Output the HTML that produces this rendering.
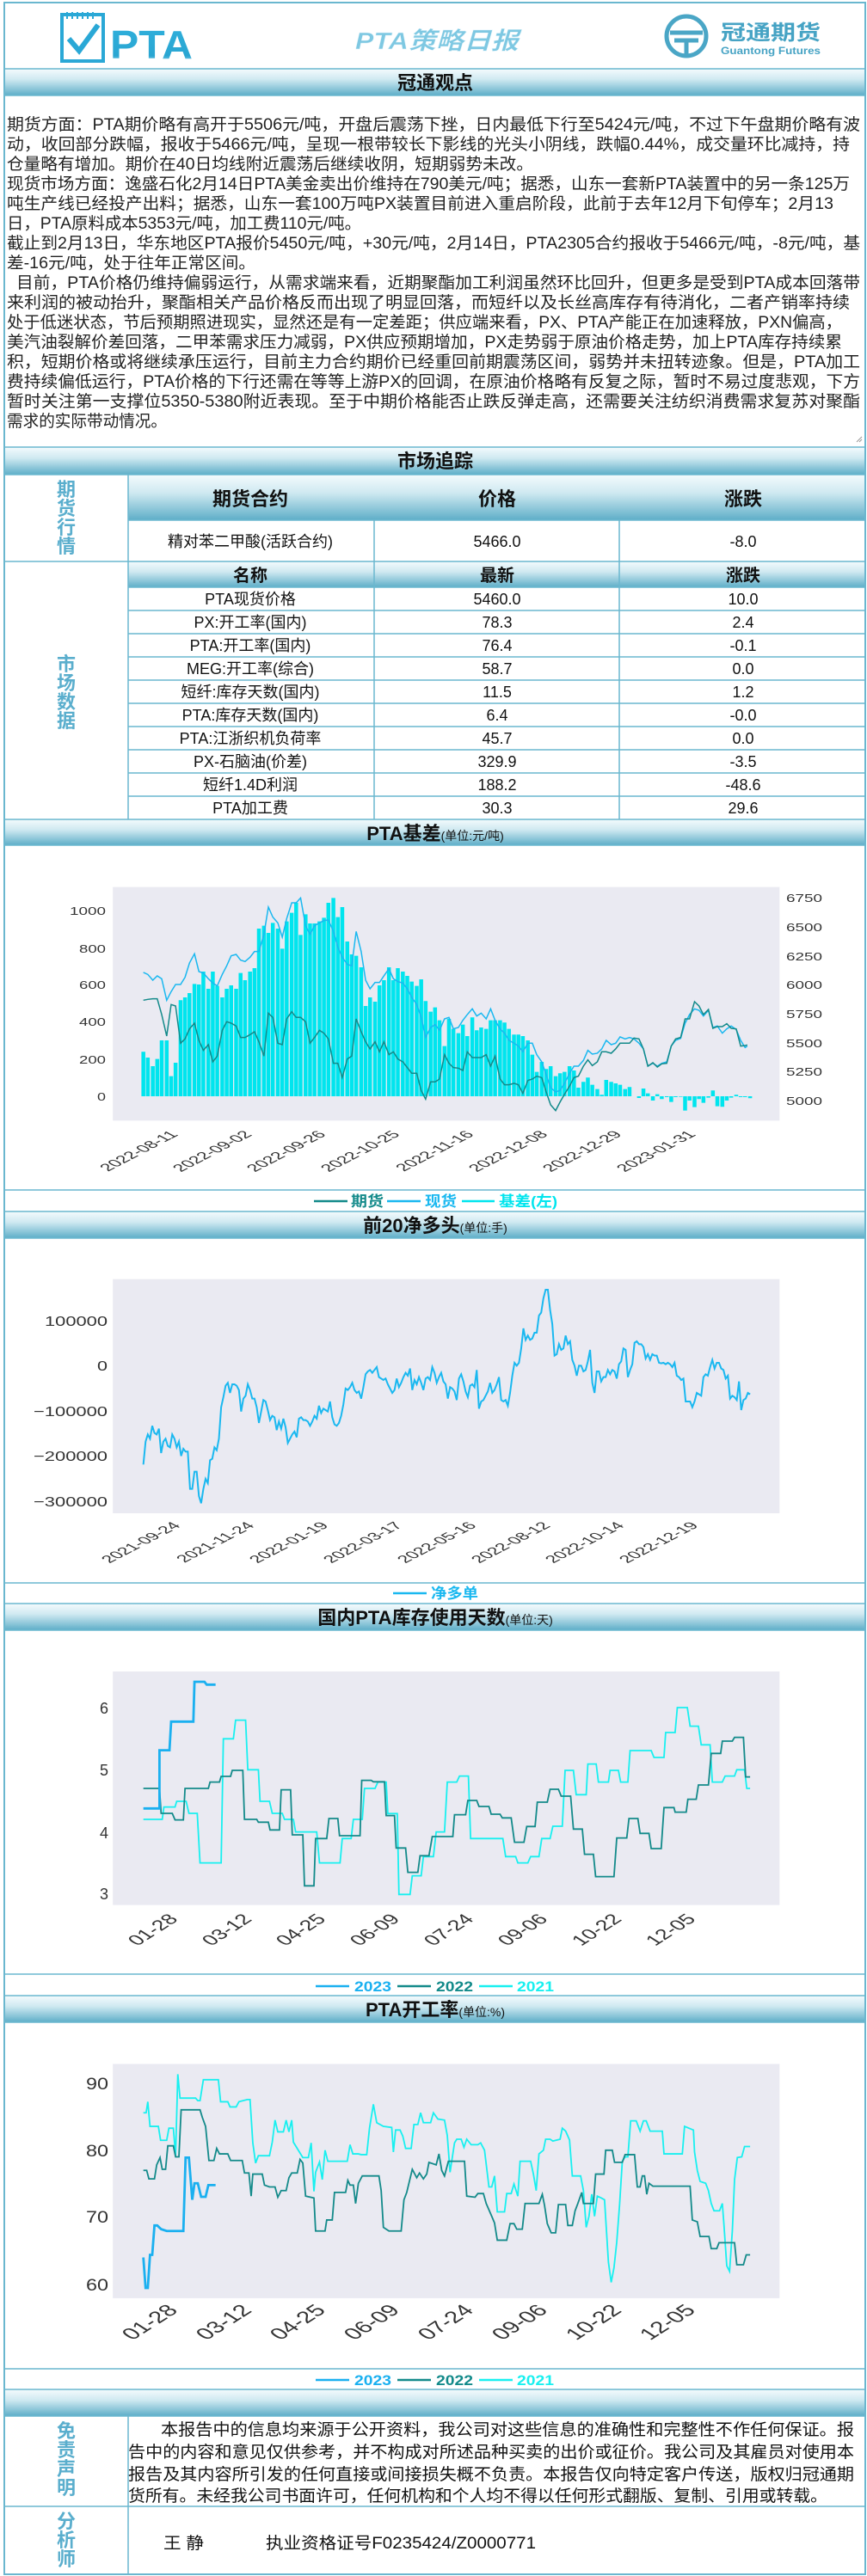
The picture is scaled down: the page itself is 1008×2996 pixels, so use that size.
<!DOCTYPE html>
<html><head><meta charset="utf-8">
<style>
html,body{margin:0;padding:0;background:#fff;}
svg{display:block;}
text{font-family:"Liberation Sans","Noto Sans CJK SC",sans-serif;}
.t{font-family:"Liberation Serif","Noto Serif CJK SC",serif;font-size:19px;fill:#222;}
.bt{font-weight:bold;font-size:22px;fill:#111;}
.cell{font-size:18px;fill:#111;}
.lab{font-weight:bold;font-size:22px;fill:#5aaecd;}
.tk{font-size:14px;fill:#333;}
</style></head>
<body>
<svg width="1008" height="2996" viewBox="0 0 1008 2996" xmlns="http://www.w3.org/2000/svg">
<defs>
<linearGradient id="g" x1="0" y1="0" x2="0" y2="1">
<stop offset="0" stop-color="#f4fbfd"/><stop offset="0.4" stop-color="#cfe9f1"/><stop offset="1" stop-color="#5eaec8"/>
</linearGradient>
<linearGradient id="lg" x1="0" y1="0" x2="0" y2="1">
<stop offset="0" stop-color="#2fb0dc"/><stop offset="0.75" stop-color="#2aa6d2"/><stop offset="1" stop-color="#dff3fa"/>
</linearGradient>
</defs>
<rect width="1008" height="2996" fill="#fff"/>

<!-- HEADER -->
<g>
<rect x="72" y="17" width="48" height="54" fill="none" stroke="#2aa8d6" stroke-width="4"/>
<path d="M78 14v8M84 14v8M90 14v8M96 14v8M102 14v8M108 14v8" stroke="#2aa8d6" stroke-width="2"/>
<path d="M80 45l12 14 22-30" fill="none" stroke="#2aa8d6" stroke-width="6"/>
<text x="128" y="68" font-size="46" font-weight="bold" fill="url(#lg)" textLength="96" lengthAdjust="spacingAndGlyphs">PTA</text>
<text x="508" y="57" text-anchor="middle" font-size="28" font-weight="bold" font-style="italic" fill="#7ec8e2" stroke="#e8f6fb" stroke-width="0.5" textLength="190" lengthAdjust="spacingAndGlyphs">PTA策略日报</text>
<circle cx="798" cy="42" r="23" fill="none" stroke="#4aa6c6" stroke-width="5"/>
<path d="M779 38h38M784 47h28M798 47v18" stroke="#4aa6c6" stroke-width="5" fill="none"/>
<text x="838" y="46" font-size="24" font-weight="bold" fill="#46a3c4" textLength="116" lengthAdjust="spacingAndGlyphs">冠通期货</text>
<text x="838" y="63" font-size="12" font-weight="bold" fill="#46a3c4" textLength="116" lengthAdjust="spacingAndGlyphs">Guantong Futures</text>
</g>

<!-- bars -->
<g fill="url(#g)">
<rect x="5" y="80" width="1001" height="31"/>
<rect x="5" y="520" width="1001" height="32"/>
<rect x="149" y="552" width="857" height="53"/>
<rect x="149" y="653" width="857" height="30"/>
<rect x="5" y="953" width="1001" height="30"/>
<rect x="5" y="1409" width="1001" height="31"/>
<rect x="5" y="1865" width="1001" height="31"/>
<rect x="5" y="2321" width="1001" height="31"/>
<rect x="5" y="2779" width="1001" height="31"/>
</g>

<text x="506" y="104" text-anchor="middle" class="bt">冠通观点</text>
<text x="506" y="544" text-anchor="middle" class="bt">市场追踪</text>

<!-- Text block -->
<g class="t">
<text x="8" y="151" textLength="992" lengthAdjust="spacingAndGlyphs">期货方面：PTA期价略有高开于5506元/吨，开盘后震荡下挫，日内最低下行至5424元/吨，不过下午盘期价略有波</text>
<text x="8" y="174" textLength="980" lengthAdjust="spacingAndGlyphs">动，收回部分跌幅，报收于5466元/吨，呈现一根带较长下影线的光头小阴线，跌幅0.44%，成交量环比减持，持</text>
<text x="8" y="197" textLength="612" lengthAdjust="spacingAndGlyphs">仓量略有增加。期价在40日均线附近震荡后继续收阴，短期弱势未改。</text>
<text x="8" y="220" textLength="980" lengthAdjust="spacingAndGlyphs">现货市场方面：逸盛石化2月14日PTA美金卖出价维持在790美元/吨；据悉，山东一套新PTA装置中的另一条125万</text>
<text x="8" y="243" textLength="961" lengthAdjust="spacingAndGlyphs">吨生产线已经投产出料；据悉，山东一套100万吨PX装置目前进入重启阶段，此前于去年12月下旬停车；2月13</text>
<text x="8" y="266" textLength="412" lengthAdjust="spacingAndGlyphs">日，PTA原料成本5353元/吨，加工费110元/吨。</text>
<text x="8" y="289" textLength="992" lengthAdjust="spacingAndGlyphs">截止到2月13日，华东地区PTA报价5450元/吨，+30元/吨，2月14日，PTA2305合约报收于5466元/吨，-8元/吨，基</text>
<text x="8" y="312" textLength="289" lengthAdjust="spacingAndGlyphs">差-16元/吨，处于往年正常区间。</text>
<text x="19" y="335" textLength="981" lengthAdjust="spacingAndGlyphs">目前，PTA价格仍维持偏弱运行，从需求端来看，近期聚酯加工利润虽然环比回升，但更多是受到PTA成本回落带</text>
<text x="8" y="358" textLength="980" lengthAdjust="spacingAndGlyphs">来利润的被动抬升，聚酯相关产品价格反而出现了明显回落，而短纤以及长丝高库存有待消化，二者产销率持续</text>
<text x="8" y="381" textLength="971" lengthAdjust="spacingAndGlyphs">处于低迷状态，节后预期照进现实，显然还是有一定差距；供应端来看，PX、PTA产能正在加速释放，PXN偏高，</text>
<text x="8" y="404" textLength="971" lengthAdjust="spacingAndGlyphs">美汽油裂解价差回落，二甲苯需求压力减弱，PX供应预期增加，PX走势弱于原油价格走势，加上PTA库存持续累</text>
<text x="8" y="427" textLength="992" lengthAdjust="spacingAndGlyphs">积，短期价格或将继续承压运行，目前主力合约期价已经重回前期震荡区间，弱势并未扭转迹象。但是，PTA加工</text>
<text x="8" y="450" textLength="992" lengthAdjust="spacingAndGlyphs">费持续偏低运行，PTA价格的下行还需在等等上游PX的回调，在原油价格略有反复之际，暂时不易过度悲观，下方</text>
<text x="8" y="473" textLength="992" lengthAdjust="spacingAndGlyphs">暂时关注第一支撑位5350-5380附近表现。至于中期价格能否止跌反弹走高，还需要关注纺织消费需求复苏对聚酯</text>
<text x="8" y="496" textLength="186" lengthAdjust="spacingAndGlyphs">需求的实际带动情况。</text>
</g>
<path d="M996 514l6-6M999 514l3-3" stroke="#999" stroke-width="1"/>

<!-- Tables -->
<g font-size="22" font-weight="bold" fill="#5aaecd" text-anchor="middle">
<text x="77" y="577">期</text><text x="77" y="599">货</text><text x="77" y="621">行</text><text x="77" y="643">情</text>
<text x="77" y="780">市</text><text x="77" y="802">场</text><text x="77" y="824">数</text><text x="77" y="846">据</text>
</g>
<g class="bt" text-anchor="middle">
<text x="291" y="588">期货合约</text><text x="578" y="588">价格</text><text x="864" y="588">涨跌</text>
<text x="291" y="676" font-size="20">名称</text><text x="578" y="676" font-size="20">最新</text><text x="864" y="676" font-size="20">涨跌</text>
</g>
<g class="cell" text-anchor="middle">
<text x="291" y="636">精对苯二甲酸(活跃合约)</text><text x="578" y="636">5466.0</text><text x="864" y="636">-8.0</text>
<text x="291" y="703">PTA现货价格</text><text x="578" y="703">5460.0</text><text x="864" y="703">10.0</text>
<text x="291" y="730">PX:开工率(国内)</text><text x="578" y="730">78.3</text><text x="864" y="730">2.4</text>
<text x="291" y="757">PTA:开工率(国内)</text><text x="578" y="757">76.4</text><text x="864" y="757">-0.1</text>
<text x="291" y="784">MEG:开工率(综合)</text><text x="578" y="784">58.7</text><text x="864" y="784">0.0</text>
<text x="291" y="811">短纤:库存天数(国内)</text><text x="578" y="811">11.5</text><text x="864" y="811">1.2</text>
<text x="291" y="838">PTA:库存天数(国内)</text><text x="578" y="838">6.4</text><text x="864" y="838">-0.0</text>
<text x="291" y="865">PTA:江浙织机负荷率</text><text x="578" y="865">45.7</text><text x="864" y="865">0.0</text>
<text x="291" y="892">PX-石脑油(价差)</text><text x="578" y="892">329.9</text><text x="864" y="892">-3.5</text>
<text x="291" y="919">短纤1.4D利润</text><text x="578" y="919">188.2</text><text x="864" y="919">-48.6</text>
<text x="291" y="946">PTA加工费</text><text x="578" y="946">30.3</text><text x="864" y="946">29.6</text>
</g>
<g stroke="#6ab7cf" stroke-width="1.5" fill="none">
<path d="M149 552V953M435 605V653M720 605V653M435 653V953M720 653V953"/>
<path d="M149 605H1006M5 653H1006M149 683H1006M149 710H1006M149 737H1006M149 764H1006M149 791H1006M149 818H1006M149 845H1006M149 872H1006M149 899H1006M149 926H1006"/>
<path d="M5 552H1006M5 953H1006M5 983H1006M5 1384H1006M5 1409H1006M5 1440H1006M5 1841H1006M5 1865H1006M5 1896H1006M5 2296H1006M5 2321H1006M5 2352H1006M5 2755H1006M5 2779H1006M5 2810H1006M5 2915H1006M149 2810V2994"/>
<path d="M5 80H1006M5 111H1006M5 520H1006" />
</g>
<rect x="5" y="3" width="1001" height="2991" fill="none" stroke="#6ab7cf" stroke-width="2"/>

<!-- Section titles -->
<text x="506" y="977" text-anchor="middle"><tspan class="bt">PTA基差</tspan><tspan font-size="14" fill="#111">(单位:元/吨)</tspan></text>
<text x="506" y="1433" text-anchor="middle"><tspan class="bt">前20净多头</tspan><tspan font-size="14" fill="#111">(单位:手)</tspan></text>
<text x="506" y="1889" text-anchor="middle"><tspan class="bt">国内PTA库存使用天数</tspan><tspan font-size="14" fill="#111">(单位:天)</tspan></text>
<text x="506" y="2345" text-anchor="middle"><tspan class="bt">PTA开工率</tspan><tspan font-size="14" fill="#111">(单位:%)</tspan></text>

<!-- CHART 1 -->
<g transform="translate(0,950) scale(0.646,0.3333)">
<rect x="203" y="245" width="1200" height="815" fill="#eaeaf2"/>
<path transform="translate(-3.5,0)" fill="#00e5ee" d="M258 975V820h7V975zM266 975V840h7V975zM275 975V870h7V975zM283 975V845h7V975zM291 975V780h7V975zM300 975V780h7V975zM308 975V905h7V975zM316 975V858h7V975zM325 975V640h7V975zM333 975V630h7V975zM341 975V615h7V975zM350 975V583h7V975zM358 975V585h7V975zM366 975V540h7V975zM375 975V600h7V975zM383 975V540h7V975zM391 975V590h7V975zM400 975V630h7V975zM408 975V600h7V975zM416 975V588h7V975zM425 975V600h7V975zM433 975V545h7V975zM441 975V570h7V975zM450 975V540h7V975zM458 975V528h7V975zM466 975V390h7V975zM475 975V380h7V975zM483 975V405h7V975zM491 975V370h7V975zM500 975V390h7V975zM508 975V460h7V975zM516 975V365h7V975zM525 975V335h7V975zM533 975V300h7V975zM541 975V412h7V975zM550 975V340h7V975zM558 975V372h7V975zM566 975V372h7V975zM575 975V365h7V975zM583 975V352h7V975zM591 975V300h7V975zM600 975V283h7V975zM608 975V350h7V975zM616 975V315h7V975zM625 975V435h7V975zM633 975V480h7V975zM641 975V485h7V975zM650 975V525h7V975zM658 975V660h7V975zM666 975V630h7V975zM675 975V645h7V975zM683 975V588h7V975zM691 975V570h7V975zM700 975V525h7V975zM708 975V570h7V975zM716 975V528h7V975zM725 975V540h7V975zM733 975V555h7V975zM741 975V575h7V975zM750 975V590h7V975zM758 975V567h7V975zM766 975V643h7V975zM775 975V680h7V975zM783 975V665h7V975zM791 975V710h7V975zM800 975V800h7V975zM808 975V705h7V975zM816 975V740h7V975zM825 975V755h7V975zM833 975V725h7V975zM841 975V765h7V975zM850 975V700h7V975zM858 975V745h7V975zM866 975V735h7V975zM875 975V740h7V975zM883 975V710h7V975zM891 975V710h7V975zM900 975V710h7V975zM908 975V718h7V975zM916 975V740h7V975zM925 975V760h7V975zM933 975V760h7V975zM941 975V765h7V975zM950 975V780h7V975zM958 975V830h7V975zM966 975V890h7V975zM975 975V855h7V975zM983 975V880h7V975zM991 975V870h7V975zM1000 975V905h7V975zM1008 975V895h7V975zM1016 975V890h7V975zM1025 975V870h7V975zM1033 975V885h7V975zM1041 975V945h7V975zM1050 975V925h7V975zM1058 975V910h7V975zM1066 975V935h7V975zM1075 975V950h7V975zM1083 975V970h7V975zM1091 975V918h7V975zM1100 975V925h7V975zM1108 975V930h7V975zM1116 975V935h7V975zM1125 975V950h7V975zM1133 975V943h7V975zM1150 975V981h7V975zM1158 975V948h7V975zM1166 975V965h7V975zM1175 975V990h7V975zM1183 975V968h7V975zM1191 975V985h7V975zM1200 975V978h7V975zM1208 975V995h7V975zM1216 975V978h7V975zM1225 975V977h7V975zM1233 975V1025h7V975zM1241 975V990h7V975zM1250 975V1013h7V975zM1258 975V985h7V975zM1266 975V998h7V975zM1275 975V980h7V975zM1283 975V955h7V975zM1291 975V1010h7V975zM1300 975V1012h7V975zM1308 975V990h7V975zM1316 975V980h7V975zM1325 975V970h7V975zM1333 975V978h7V975zM1341 975V978h7V975zM1350 975V982h7V975z"/>
<polyline fill="none" stroke="#1ab8f0" stroke-width="1.5" vector-effect="non-scaling-stroke" points="258,543 266,550 275,570 283,555 291,565 300,640 308,610 316,585 325,585 333,560 341,510 350,478 358,540 366,545 375,565 383,580 391,590 400,550 408,520 416,485 425,480 433,500 441,505 450,490 458,470 466,470 475,410 483,315 491,350 500,370 508,420 516,355 525,300 533,300 541,283 550,380 558,410 566,380 575,370 583,362 591,360 600,400 608,455 616,490 625,515 633,520 641,400 650,470 658,570 666,600 675,578 683,578 691,555 700,530 708,565 716,575 725,580 733,600 741,630 750,655 758,700 766,770 775,735 783,725 791,745 800,705 808,700 816,740 825,735 833,710 841,690 850,670 858,695 866,685 875,705 883,670 891,710 900,740 908,755 916,780 925,790 933,800 941,820 950,790 958,790 966,830 975,855 983,900 991,945 1000,960 1008,955 1016,930 1025,895 1033,870 1041,870 1050,850 1058,815 1066,828 1075,825 1083,810 1091,780 1100,795 1108,790 1116,768 1125,775 1133,770 1141,775 1150,790 1158,810 1166,870 1175,860 1183,870 1191,860 1200,855 1208,800 1216,780 1225,773 1233,720 1241,690 1250,670 1258,675 1266,695 1275,675 1283,735 1291,730 1300,755 1308,740 1316,730 1325,742 1333,780 1341,805 1345,800"/>
<polyline fill="none" stroke="#138a8a" stroke-width="1.5" vector-effect="non-scaling-stroke" points="258,640 266,637 275,635 283,635 291,690 300,765 308,655 316,660 325,790 333,775 341,740 350,720 358,780 366,815 375,795 383,855 391,835 400,745 408,715 416,720 425,730 433,770 441,770 450,760 458,750 466,785 475,835 483,685 491,700 500,790 508,795 516,705 525,680 533,700 541,700 550,715 558,790 566,770 575,745 583,755 591,775 600,860 608,860 616,910 625,845 633,835 641,705 650,750 658,785 666,810 675,785 683,820 691,785 700,830 708,820 716,845 725,855 733,875 741,895 750,895 758,955 766,985 775,925 783,925 791,915 800,830 808,860 816,875 825,877 833,885 841,820 850,840 858,840 866,840 875,830 883,870 891,835 900,915 908,935 916,935 925,930 933,935 941,965 950,920 958,915 966,905 975,910 983,960 991,1005 1000,1025 1008,995 1016,968 1025,940 1033,910 1041,905 1050,870 1058,848 1066,868 1075,855 1083,820 1091,820 1100,825 1108,810 1116,790 1125,790 1133,790 1141,772 1150,775 1158,810 1166,870 1175,858 1183,873 1191,862 1200,860 1208,800 1216,775 1225,770 1233,705 1241,705 1250,645 1258,660 1266,690 1275,672 1283,738 1291,732 1300,732 1308,722 1316,738 1325,740 1333,800 1341,798 1345,796"/>
</g>
<g font-size="13" fill="#333" text-anchor="end">
<text x="123" y="1064" textLength="42" lengthAdjust="spacingAndGlyphs">1000</text>
<text x="123" y="1108" textLength="31" lengthAdjust="spacingAndGlyphs">800</text>
<text x="123" y="1150" textLength="31" lengthAdjust="spacingAndGlyphs">600</text>
<text x="123" y="1193" textLength="31" lengthAdjust="spacingAndGlyphs">400</text>
<text x="123" y="1237" textLength="31" lengthAdjust="spacingAndGlyphs">200</text>
<text x="123" y="1280" textLength="10" lengthAdjust="spacingAndGlyphs">0</text>
</g>
<g font-size="13" fill="#333">
<text x="914" y="1049" textLength="42" lengthAdjust="spacingAndGlyphs">6750</text>
<text x="914" y="1083" textLength="42" lengthAdjust="spacingAndGlyphs">6500</text>
<text x="914" y="1117" textLength="42" lengthAdjust="spacingAndGlyphs">6250</text>
<text x="914" y="1150" textLength="42" lengthAdjust="spacingAndGlyphs">6000</text>
<text x="914" y="1184" textLength="42" lengthAdjust="spacingAndGlyphs">5750</text>
<text x="914" y="1218" textLength="42" lengthAdjust="spacingAndGlyphs">5500</text>
<text x="914" y="1251" textLength="42" lengthAdjust="spacingAndGlyphs">5250</text>
<text x="914" y="1285" textLength="42" lengthAdjust="spacingAndGlyphs">5000</text>
</g>
<g font-size="12" fill="#333" text-anchor="end">
<text transform="translate(208,1320) scale(1.93,1) rotate(-45)">2022-08-11</text>
<text transform="translate(294,1320) scale(1.93,1) rotate(-45)">2022-09-02</text>
<text transform="translate(380,1320) scale(1.93,1) rotate(-45)">2022-09-26</text>
<text transform="translate(466,1320) scale(1.93,1) rotate(-45)">2022-10-25</text>
<text transform="translate(552,1320) scale(1.93,1) rotate(-45)">2022-11-16</text>
<text transform="translate(638,1320) scale(1.93,1) rotate(-45)">2022-12-08</text>
<text transform="translate(724,1320) scale(1.93,1) rotate(-45)">2022-12-29</text>
<text transform="translate(810,1320) scale(1.93,1) rotate(-45)">2023-01-31</text>
</g>
<g stroke-width="2.5">
<line x1="365" y1="1397" x2="404" y2="1397" stroke="#138a8a"/>
<line x1="450" y1="1397" x2="489" y2="1397" stroke="#1ab8f0"/>
<line x1="537" y1="1397" x2="575" y2="1397" stroke="#00e5ee"/>
</g>
<g font-size="17" font-weight="bold">
<text x="408" y="1403" fill="#138a8a" textLength="38" lengthAdjust="spacingAndGlyphs">期货</text>
<text x="494" y="1403" fill="#1ab8f0" textLength="37" lengthAdjust="spacingAndGlyphs">现货</text>
<text x="580" y="1403" fill="#00e5ee" textLength="68" lengthAdjust="spacingAndGlyphs">基差(左)</text>
</g>

<!-- CHART 2 -->
<g transform="translate(0,1420) scale(0.646,0.3333)">
<rect x="203" y="203" width="1200" height="817" fill="#eaeaf2"/>
<polyline fill="none" stroke="#1ab8f0" stroke-width="2" vector-effect="non-scaling-stroke" points="258,850 262,770 266,745 270,760 274,715 278,740 282,745 286,725 290,810 294,770 298,760 302,785 306,790 310,745 314,760 318,790 322,770 326,820 330,795 334,805 338,805 342,935 346,935 350,875 354,875 358,960 362,985 366,935 370,900 374,915 378,835 382,830 386,790 390,800 394,760 398,650 402,615 406,575 410,565 414,600 418,570 422,570 426,575 430,590 434,665 438,620 442,610 446,570 450,590 454,620 458,620 462,650 466,705 470,665 474,625 478,630 482,660 486,695 490,680 494,685 498,730 502,700 506,725 510,690 514,720 518,775 522,760 526,745 530,735 534,755 538,690 542,685 546,695 550,695 554,700 558,715 562,700 566,680 570,690 574,645 578,670 582,655 586,660 590,665 594,630 598,685 602,710 606,715 610,705 614,680 618,640 622,585 626,590 630,580 634,565 638,590 642,600 646,595 650,620 654,580 658,535 662,525 666,520 670,530 674,520 678,510 682,545 686,550 690,555 694,550 698,570 702,585 706,600 710,590 714,550 718,580 722,565 726,545 730,530 734,540 738,515 742,590 746,555 750,570 754,545 758,565 762,590 766,550 770,545 774,555 778,510 782,530 786,565 790,545 794,530 798,560 802,570 806,620 810,580 814,585 818,595 822,625 826,550 830,535 834,560 838,595 842,615 846,575 850,570 854,580 858,520 862,655 866,630 870,625 874,610 878,595 882,565 886,600 890,590 894,570 898,545 902,625 906,630 910,625 914,645 918,600 922,540 926,495 930,505 934,495 938,445 942,375 946,415 950,400 954,415 958,410 962,390 966,390 970,330 974,320 978,270 982,240 986,240 990,310 994,360 998,470 1002,465 1006,430 1010,450 1014,445 1018,400 1022,430 1026,420 1030,485 1034,505 1038,540 1042,505 1046,505 1050,525 1054,520 1058,490 1062,450 1066,565 1070,600 1074,525 1078,525 1082,560 1086,545 1090,545 1094,520 1098,535 1102,520 1106,525 1110,550 1114,500 1118,490 1122,445 1126,450 1130,545 1134,520 1138,500 1142,425 1146,420 1150,430 1154,430 1158,440 1162,480 1166,465 1170,485 1174,465 1178,470 1182,470 1186,495 1190,497 1194,495 1198,500 1202,495 1206,500 1210,510 1214,495 1218,540 1222,545 1226,555 1230,550 1234,630 1238,630 1242,630 1246,650 1250,630 1254,600 1258,605 1262,610 1266,545 1270,535 1274,540 1278,510 1282,485 1286,515 1290,495 1294,495 1298,515 1302,520 1306,550 1310,540 1314,620 1318,610 1322,615 1326,625 1330,560 1334,660 1338,625 1342,620 1346,600 1350,605"/>
</g>
<g font-size="16" fill="#333" text-anchor="end">
<text x="125" y="1542" textLength="73" lengthAdjust="spacingAndGlyphs">100000</text>
<text x="125" y="1594" textLength="12" lengthAdjust="spacingAndGlyphs">0</text>
<text x="125" y="1647" textLength="86" lengthAdjust="spacingAndGlyphs">−100000</text>
<text x="125" y="1699" textLength="86" lengthAdjust="spacingAndGlyphs">−200000</text>
<text x="125" y="1752" textLength="86" lengthAdjust="spacingAndGlyphs">−300000</text>
</g>
<g font-size="12" fill="#333" text-anchor="end">
<text transform="translate(211,1775) scale(1.93,1) rotate(-45)">2021-09-24</text>
<text transform="translate(297,1775) scale(1.93,1) rotate(-45)">2021-11-24</text>
<text transform="translate(383,1775) scale(1.93,1) rotate(-45)">2022-01-19</text>
<text transform="translate(469,1775) scale(1.93,1) rotate(-45)">2022-03-17</text>
<text transform="translate(555,1775) scale(1.93,1) rotate(-45)">2022-05-16</text>
<text transform="translate(641,1775) scale(1.93,1) rotate(-45)">2022-08-12</text>
<text transform="translate(727,1775) scale(1.93,1) rotate(-45)">2022-10-14</text>
<text transform="translate(813,1775) scale(1.93,1) rotate(-45)">2022-12-19</text>
</g>
<line x1="457" y1="1853" x2="496" y2="1853" stroke="#1ab8f0" stroke-width="2.5"/>
<text x="501" y="1859" font-size="17" font-weight="bold" fill="#1ab8f0" textLength="55" lengthAdjust="spacingAndGlyphs">净多单</text>

<!-- CHART 3 -->
<g transform="translate(0,1880) scale(0.646,0.3333)">
<rect x="203" y="192" width="1200" height="815" fill="#eaeaf2"/>
<polyline fill="none" stroke="#18f0f0" stroke-width="1.8" vector-effect="non-scaling-stroke" points="258,708 292,708 295,665 315,665 318,645 335,645 340,687 355,687 360,860 398,860 402,427 420,427 424,362 442,362 446,535 465,535 468,645 485,645 490,687 508,687 512,708 528,708 532,752 570,752 575,860 612,860 616,775 632,775 636,708 652,708 656,600 675,600 680,578 695,578 698,688 715,688 718,970 738,970 742,905 758,905 762,838 780,838 785,752 800,752 805,578 822,578 827,557 843,557 847,775 905,775 910,838 928,838 932,860 950,860 955,838 970,838 975,775 990,775 995,732 1012,732 1017,537 1032,537 1037,622 1055,622 1058,515 1073,515 1077,578 1095,578 1098,537 1113,537 1117,578 1130,578 1134,468 1172,468 1177,492 1195,492 1198,405 1215,405 1219,318 1237,318 1242,383 1257,383 1262,448 1278,448 1282,578 1300,578 1305,557 1322,557 1326,535 1340,535 1344,600 1350,600"/>
<polyline fill="none" stroke="#138a8a" stroke-width="1.8" vector-effect="non-scaling-stroke" points="258,600 287,600 290,687 310,687 315,710 330,710 333,600 375,600 378,578 395,578 398,558 415,558 418,537 437,537 440,708 462,708 465,718 483,718 486,745 503,745 506,605 523,605 526,762 545,762 548,940 565,940 568,775 588,775 592,705 608,705 611,765 648,765 651,572 668,572 672,577 692,577 695,695 710,695 713,808 730,808 734,893 752,893 756,835 772,835 778,768 815,768 818,692 838,692 842,642 858,642 862,663 880,663 884,690 900,690 904,703 920,703 926,788 943,788 948,733 963,733 967,648 985,648 990,603 1005,603 1010,627 1027,627 1032,742 1048,742 1052,830 1068,830 1072,908 1105,908 1110,773 1128,773 1132,705 1148,705 1152,757 1168,757 1172,810 1190,810 1195,667 1213,667 1215,683 1235,683 1238,638 1253,638 1257,588 1275,588 1280,478 1297,478 1300,435 1318,435 1322,422 1338,422 1342,560 1350,560"/>
<polyline fill="none" stroke="#1ab0f0" stroke-width="2.8" vector-effect="non-scaling-stroke" points="258,670 287,670 287,467 305,467 308,367 348,367 350,228 368,228 372,238 388,238"/>
</g>
<g font-size="18" fill="#333" text-anchor="end">
<text x="126" y="1993">6</text><text x="126" y="2065">5</text><text x="126" y="2138">4</text><text x="126" y="2209">3</text>
</g>
<g font-size="17" fill="#333" text-anchor="end">
<text transform="translate(208,2233) scale(1.57,1) rotate(-45)">01-28</text>
<text transform="translate(294,2233) scale(1.57,1) rotate(-45)">03-12</text>
<text transform="translate(380,2233) scale(1.57,1) rotate(-45)">04-25</text>
<text transform="translate(466,2233) scale(1.57,1) rotate(-45)">06-09</text>
<text transform="translate(552,2233) scale(1.57,1) rotate(-45)">07-24</text>
<text transform="translate(638,2233) scale(1.57,1) rotate(-45)">09-06</text>
<text transform="translate(724,2233) scale(1.57,1) rotate(-45)">10-22</text>
<text transform="translate(810,2233) scale(1.57,1) rotate(-45)">12-05</text>
</g>
<g stroke-width="2.5">
<line x1="367" y1="2310" x2="406" y2="2310" stroke="#1ab0f0"/>
<line x1="462" y1="2310" x2="501" y2="2310" stroke="#138a8a"/>
<line x1="557" y1="2310" x2="596" y2="2310" stroke="#18f0f0"/>
</g>
<g font-size="17" font-weight="bold">
<text x="412" y="2316" fill="#1ab0f0" textLength="43" lengthAdjust="spacingAndGlyphs">2023</text>
<text x="507" y="2316" fill="#138a8a" textLength="43" lengthAdjust="spacingAndGlyphs">2022</text>
<text x="601" y="2316" fill="#18f0f0" textLength="43" lengthAdjust="spacingAndGlyphs">2021</text>
</g>

<!-- CHART 4 -->
<g transform="translate(0,2330) scale(0.646,0.427)">
<rect x="203" y="165" width="1200" height="638" fill="#eaeaf2"/>
<polyline fill="none" stroke="#18f0f0" stroke-width="1.8" vector-effect="non-scaling-stroke" points="258,298 263,298 266,268 270,335 285,335 289,373 300,373 304,340 312,340 316,415 320,193 324,258 352,258 356,265 360,265 366,208 393,208 397,268 410,268 414,282 425,282 430,268 445,262 450,262 455,380 460,435 465,415 485,415 490,378 495,318 500,350 510,350 515,318 520,350 525,318 528,378 545,420 555,420 560,380 565,512 568,460 575,432 580,480 585,400 590,430 625,430 630,385 635,410 645,410 650,412 660,412 665,340 672,275 678,325 690,335 705,338 708,405 712,345 720,345 725,362 730,395 740,395 745,330 752,330 757,298 762,325 775,325 780,298 788,315 800,318 805,360 810,460 818,380 822,370 830,370 835,392 840,370 848,385 860,385 865,380 872,400 880,500 885,500 890,470 895,568 908,568 912,518 920,518 925,492 932,525 936,430 955,430 960,465 965,510 970,410 978,400 982,370 990,370 995,375 1008,370 1012,340 1018,348 1025,372 1030,470 1045,470 1050,510 1055,610 1060,580 1065,520 1070,580 1075,525 1082,530 1088,535 1095,705 1100,760 1105,720 1110,650 1115,550 1120,430 1125,418 1130,418 1135,320 1145,320 1152,348 1158,320 1163,320 1170,348 1192,348 1195,410 1228,410 1232,335 1248,345 1250,405 1255,455 1260,485 1270,490 1275,510 1280,545 1285,565 1295,565 1300,545 1303,605 1308,715 1313,730 1318,620 1322,480 1327,420 1335,418 1340,390 1350,390"/>
<polyline fill="none" stroke="#138a8a" stroke-width="1.8" vector-effect="non-scaling-stroke" points="258,455 264,455 268,478 278,478 282,440 288,420 292,452 298,452 302,388 312,388 316,418 322,418 326,290 360,290 364,310 370,335 376,428 385,428 390,395 395,410 410,410 415,428 436,428 440,462 448,462 452,525 455,465 472,465 476,495 485,500 495,500 500,528 506,510 515,510 520,475 525,462 535,462 540,425 545,435 550,525 565,530 568,620 585,620 588,590 598,590 602,515 622,515 626,482 630,495 636,495 640,545 645,490 652,470 682,470 686,510 690,610 700,620 722,620 727,535 732,515 742,452 750,475 755,462 762,478 768,465 772,433 785,440 790,410 795,455 800,470 807,430 836,430 840,525 855,528 860,518 870,518 875,545 885,580 890,598 895,645 912,645 918,600 925,600 930,615 940,615 945,545 970,545 976,520 980,550 985,600 992,625 1000,625 1005,548 1018,548 1022,605 1030,605 1035,565 1040,545 1047,515 1050,545 1068,545 1072,465 1087,465 1090,400 1102,400 1106,433 1120,433 1125,412 1142,412 1147,500 1152,500 1156,470 1160,470 1164,520 1168,490 1175,498 1242,498 1246,590 1255,595 1260,635 1276,635 1280,668 1290,668 1294,652 1322,652 1326,712 1338,712 1343,685 1350,685"/>
<polyline fill="none" stroke="#1ab0f0" stroke-width="2.8" vector-effect="non-scaling-stroke" points="258,692 262,775 266,775 270,685 274,685 278,605 283,605 290,615 300,620 330,620 334,420 340,420 346,535 350,490 356,490 362,527 370,527 375,495 388,495"/>
</g>
<g font-size="19" fill="#333" text-anchor="end">
<text x="126" y="2430" textLength="26" lengthAdjust="spacingAndGlyphs">90</text>
<text x="126" y="2508" textLength="26" lengthAdjust="spacingAndGlyphs">80</text>
<text x="126" y="2585" textLength="26" lengthAdjust="spacingAndGlyphs">70</text>
<text x="126" y="2664" textLength="26" lengthAdjust="spacingAndGlyphs">60</text>
</g>
<g font-size="19" fill="#333" text-anchor="end">
<text transform="translate(208,2688) scale(1.57,1) rotate(-45)">01-28</text>
<text transform="translate(294,2688) scale(1.57,1) rotate(-45)">03-12</text>
<text transform="translate(380,2688) scale(1.57,1) rotate(-45)">04-25</text>
<text transform="translate(466,2688) scale(1.57,1) rotate(-45)">06-09</text>
<text transform="translate(552,2688) scale(1.57,1) rotate(-45)">07-24</text>
<text transform="translate(638,2688) scale(1.57,1) rotate(-45)">09-06</text>
<text transform="translate(724,2688) scale(1.57,1) rotate(-45)">10-22</text>
<text transform="translate(810,2688) scale(1.57,1) rotate(-45)">12-05</text>
</g>
<g stroke-width="2.5">
<line x1="367" y1="2768" x2="406" y2="2768" stroke="#1ab0f0"/>
<line x1="462" y1="2768" x2="501" y2="2768" stroke="#138a8a"/>
<line x1="557" y1="2768" x2="596" y2="2768" stroke="#18f0f0"/>
</g>
<g font-size="17" font-weight="bold">
<text x="412" y="2774" fill="#1ab0f0" textLength="43" lengthAdjust="spacingAndGlyphs">2023</text>
<text x="507" y="2774" fill="#138a8a" textLength="43" lengthAdjust="spacingAndGlyphs">2022</text>
<text x="601" y="2774" fill="#18f0f0" textLength="43" lengthAdjust="spacingAndGlyphs">2021</text>
</g>

<!-- Disclaimer -->
<g font-size="22" font-weight="bold" fill="#5aaecd" text-anchor="middle">
<text x="77" y="2835">免</text><text x="77" y="2857">责</text><text x="77" y="2879">声</text><text x="77" y="2901">明</text>
<text x="77" y="2940">分</text><text x="77" y="2962">析</text><text x="77" y="2984">师</text>
</g>
<g font-size="19" fill="#111">
<text x="187" y="2832" textLength="806" lengthAdjust="spacingAndGlyphs">本报告中的信息均来源于公开资料，我公司对这些信息的准确性和完整性不作任何保证。报</text>
<text x="149" y="2858" textLength="844" lengthAdjust="spacingAndGlyphs">告中的内容和意见仅供参考，并不构成对所述品种买卖的出价或征价。我公司及其雇员对使用本</text>
<text x="149" y="2884" textLength="844" lengthAdjust="spacingAndGlyphs">报告及其内容所引发的任何直接或间接损失概不负责。本报告仅向特定客户传送，版权归冠通期</text>
<text x="149" y="2909" textLength="813" lengthAdjust="spacingAndGlyphs">货所有。未经我公司书面许可，任何机构和个人均不得以任何形式翻版、复制、引用或转载。</text>
<text x="190" y="2964" textLength="47" lengthAdjust="spacingAndGlyphs">王 静</text>
<text x="309" y="2964" textLength="314" lengthAdjust="spacingAndGlyphs">执业资格证号F0235424/Z0000771</text>
</g>
</svg>
</body></html>
